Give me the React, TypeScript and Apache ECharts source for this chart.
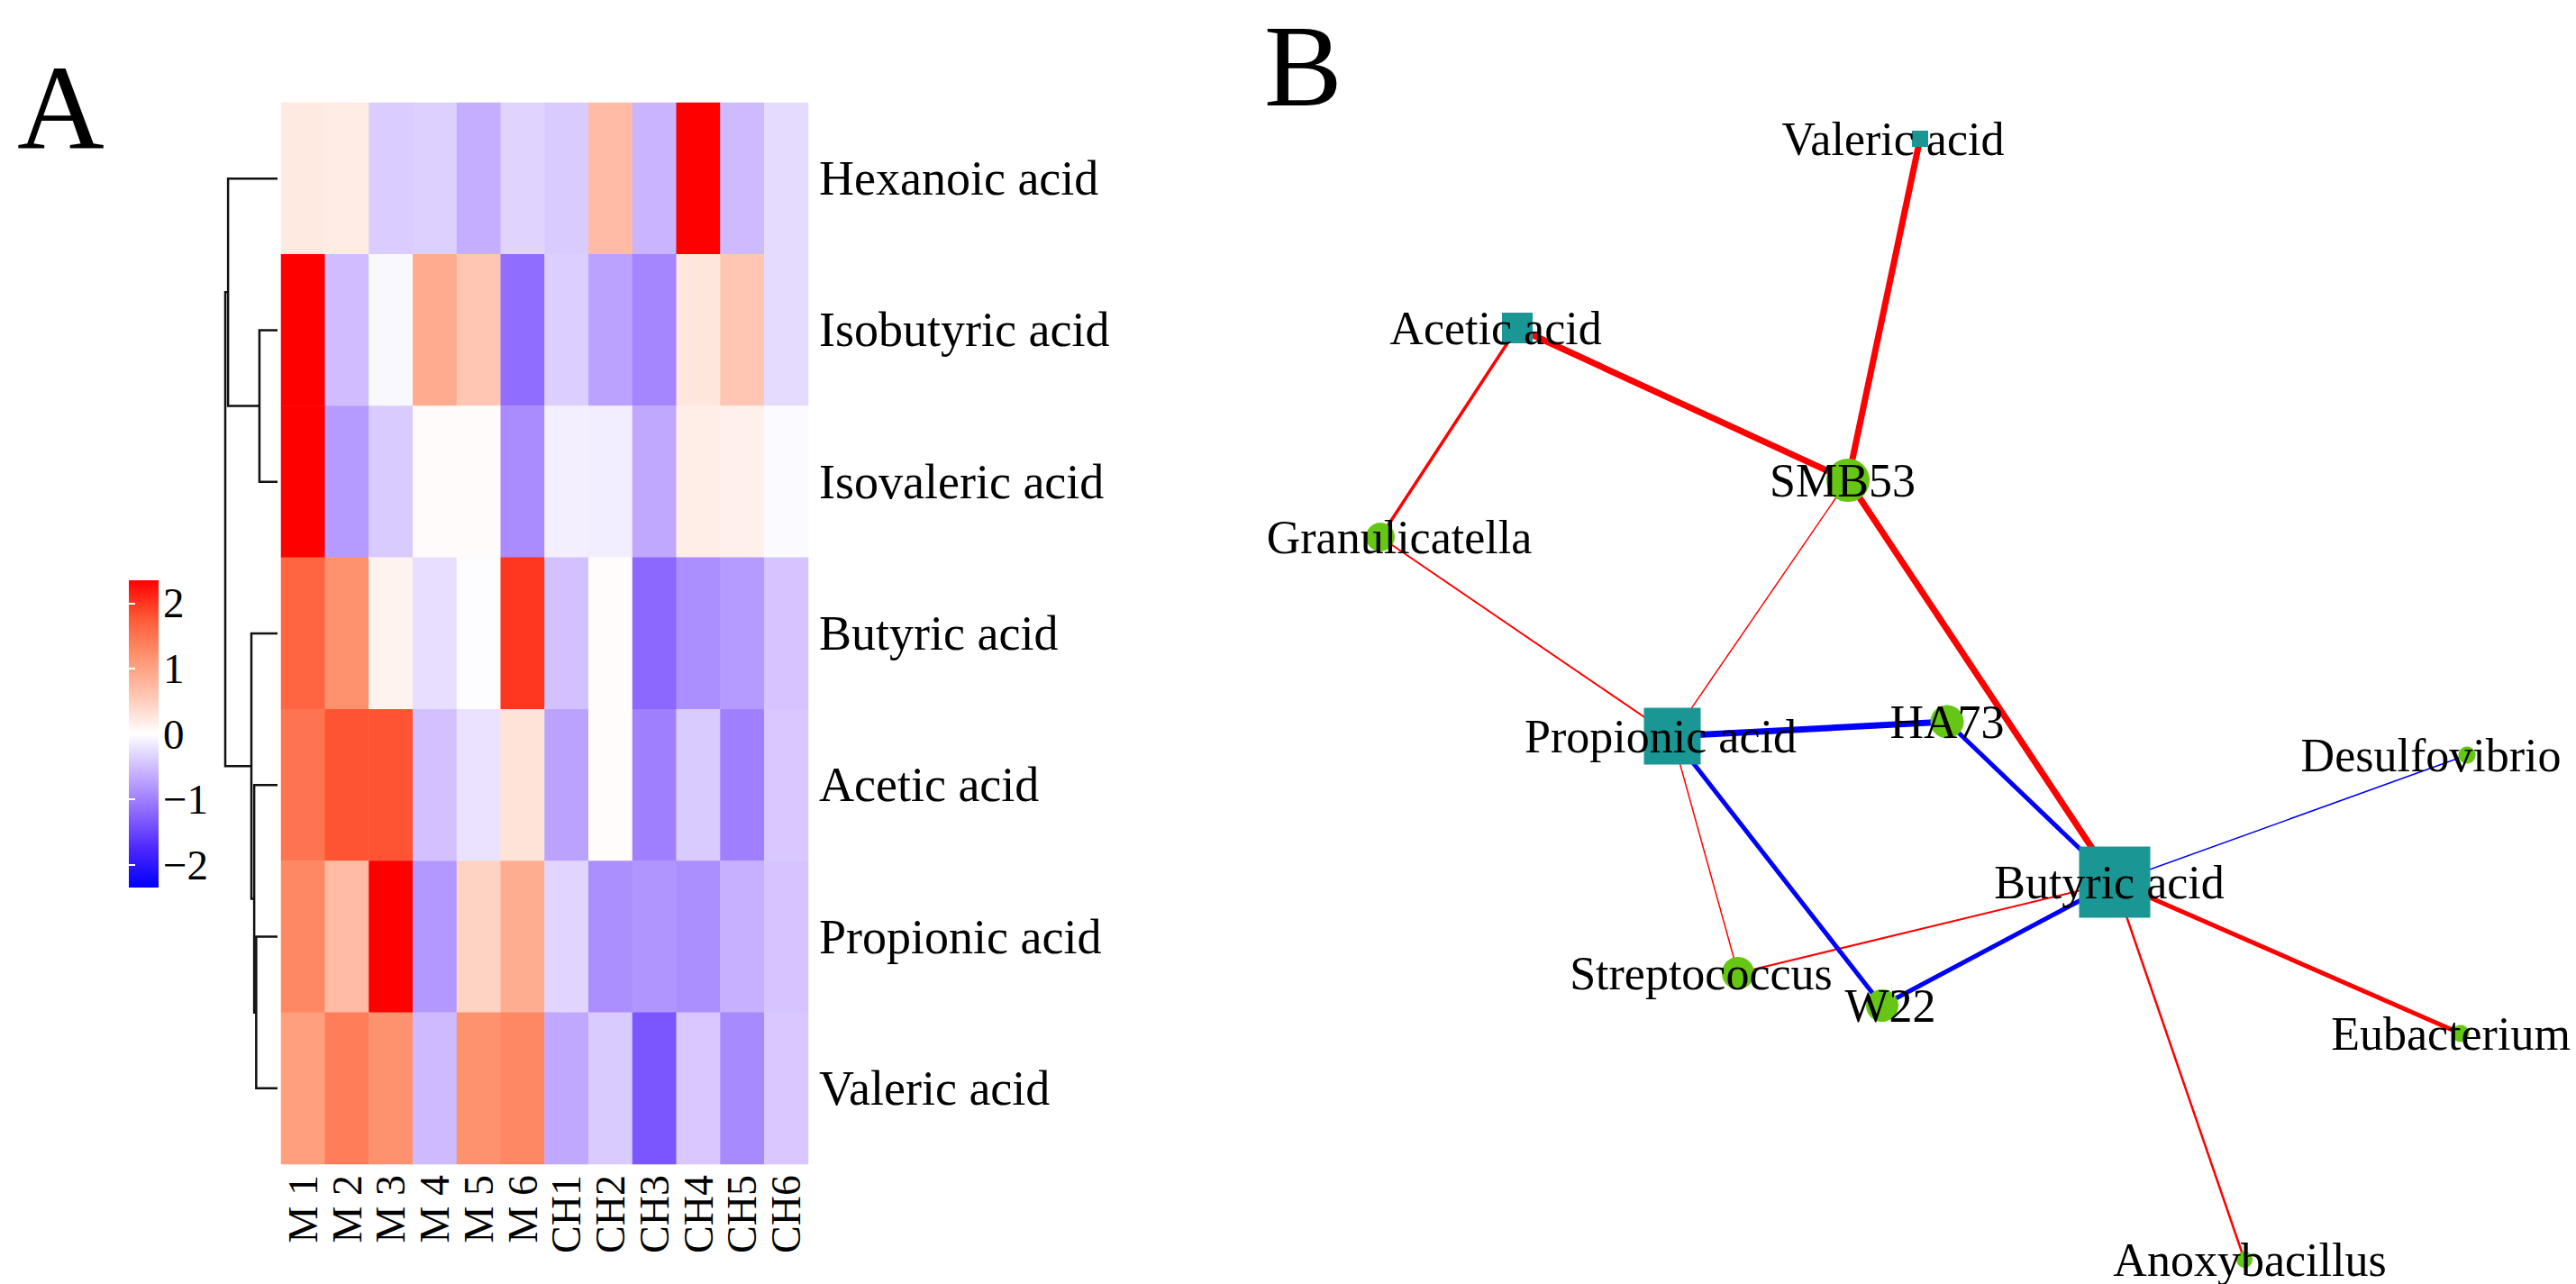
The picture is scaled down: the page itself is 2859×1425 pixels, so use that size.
import React, { useEffect, useRef } from 'react';
import * as echarts from 'echarts';

// ---------- Panel A data ----------
const colLabels = ['M 1', 'M 2', 'M 3', 'M 4', 'M 5', 'M 6', 'CH1', 'CH2', 'CH3', 'CH4', 'CH5', 'CH6'];
const rowLabels = ['Hexanoic acid', 'Isobutyric acid', 'Isovaleric acid', 'Butyric acid', 'Acetic acid', 'Propionic acid', 'Valeric acid'];

const hexanoic = [0.22, 0.2, -0.39, -0.36, -0.62, -0.33, -0.4, 0.72, -0.57, 2.4, -0.52, -0.28];
const isobutyric = [2.4, -0.5, -0.05, 0.9, 0.58, -1.15, -0.37, -0.72, -0.95, 0.25, 0.58, -0.28];
const isovaleric = [2.4, -0.78, -0.4, 0.04, 0.04, -0.9, -0.12, -0.13, -0.67, 0.18, 0.15, -0.04];
const butyric = [1.65, 1.2, 0.12, -0.25, -0.02, 2.0, -0.47, 0.03, -1.2, -0.88, -0.78, -0.45];
const acetic = [1.5, 1.8, 1.8, -0.47, -0.22, 0.3, -0.72, 0.03, -1.0, -0.4, -1.0, -0.42];
const propionic = [1.3, 0.72, 2.4, -0.8, 0.45, 0.88, -0.32, -0.88, -0.83, -0.88, -0.6, -0.45];
const valeric = [1.05, 1.4, 1.2, -0.52, 1.2, 1.3, -0.67, -0.4, -1.35, -0.42, -0.92, -0.42];
const rowValues = [hexanoic, isobutyric, isovaleric, butyric, acetic, propionic, valeric];

const scaleMin = -2.35;
const scaleMax = 2.35;
const scaleColors = ['#0000FF', '#4D26FF', '#8F6BFF', '#C8B2FF', '#FFFFFF', '#FFC6B2', '#FF9470', '#FF5A36', '#FF0000'];
const legendTicks = [-2, -1, 0, 1, 2];

// dendrogram merges: [left child, right child, height]; leaves are 0..6, merges numbered from 7
const merges = [
  [1, 2, 4.5],
  [0, 7, 12.3],
  [5, 6, 5.3],
  [4, 9, 5.8],
  [3, 10, 6.5],
  [8, 11, 13],
];
const dendroMaxHeight = 13;

// ---------- Panel B data ----------
const nodeNames = ['Valeric acid', 'Acetic acid', 'SMB53', 'Granulicatella', 'Propionic acid', 'HA73', 'Streptococcus', 'W22', 'Butyric acid', 'Desulfovibrio', 'Eubacterium', 'Anoxybacillus'];
const nodeIsAcid = [true, true, false, false, true, false, false, false, true, false, false, false];
const nodeX = [2131, 1684, 2051, 1532, 1856, 2161, 1929, 2089, 2347, 2738, 2731, 2491];
const nodeY = [154, 364, 533, 596, 817, 801, 1080, 1116, 979, 838, 1147, 1398];
const nodeSize = [18, 34, 48, 32, 63, 37, 36, 36, 79, 19, 19, 18];
const labelDx = [-30, -24, -6, 21, -13, 0, -41, 9, -6, -40, -11, 6];

const edgeSource = ['Valeric acid', 'Acetic acid', 'SMB53', 'Acetic acid', 'Granulicatella', 'SMB53', 'Propionic acid', 'Streptococcus', 'Butyric acid', 'Butyric acid', 'Propionic acid', 'Propionic acid', 'HA73', 'W22', 'Butyric acid'];
const edgeTarget = ['SMB53', 'SMB53', 'Butyric acid', 'Granulicatella', 'Propionic acid', 'Propionic acid', 'Streptococcus', 'Butyric acid', 'Eubacterium', 'Anoxybacillus', 'HA73', 'W22', 'Butyric acid', 'Butyric acid', 'Desulfovibrio'];
const edgePositive = [true, true, true, true, true, true, true, true, true, true, false, false, false, false, false];
const edgeWeight = [7, 7, 7, 3.5, 2, 1.5, 1.5, 2, 5, 2.5, 7, 5, 5, 5, 1.5];

const FONT = '"Liberation Serif", "Times New Roman", serif';

function buildOption() {
  const heatData: any[] = [];
  rowValues.forEach((row, r) => row.forEach((v, c) => heatData.push([c, r, v])));

  // dendrogram geometry
  const nodeYPos: number[] = rowLabels.map((_, i) => i);
  const nodeH: number[] = rowLabels.map(() => 0);
  const dendroLines: any[] = [];
  merges.forEach(([a, b, h]) => {
    const ya = nodeYPos[a];
    const yb = nodeYPos[b];
    dendroLines.push({ coords: [[nodeH[a], ya], [h, ya], [h, yb], [nodeH[b], yb]] });
    nodeYPos.push((ya + yb) / 2);
    nodeH.push(h);
  });

  const gradStops = scaleColors
    .slice()
    .reverse()
    .map((c, i, a) => ({ offset: i / (a.length - 1), color: c }));

  const graphNodes = nodeNames.map((n, i) => ({
    name: n,
    value: [nodeX[i], nodeY[i]],
    symbol: nodeIsAcid[i] ? 'rect' : 'circle',
    symbolSize: nodeSize[i],
    itemStyle: { color: nodeIsAcid[i] ? '#1a9794' : '#66c614' },
    label: { offset: [labelDx[i], 0] },
  }));
  const graphLinks = edgeSource.map((s, i) => ({
    source: s,
    target: edgeTarget[i],
    lineStyle: { color: edgePositive[i] ? '#ff0000' : '#0000ff', width: edgeWeight[i], opacity: 1, curveness: 0 },
  }));

  const hiddenAxis = { show: false };

  return {
    animation: false,
    backgroundColor: '#ffffff',
    textStyle: { fontFamily: FONT },
    graphic: [
      { type: 'text', left: 19, top: 52, style: { text: 'A', fontSize: 134, fontFamily: FONT, fill: '#000' } },
      { type: 'text', left: 1403, top: 8, style: { text: 'B', fontSize: 130, fontFamily: FONT, fill: '#000' } },
    ],
    visualMap: {
      type: 'continuous',
      show: false,
      min: scaleMin,
      max: scaleMax,
      dimension: 2,
      seriesIndex: 0,
      inRange: { color: scaleColors },
    },
    grid: [
      { left: 312, top: 114, width: 585, height: 1178 },
      { left: 250, top: 114, width: 58, height: 1178 },
      { left: 143, top: 644, width: 33, height: 341 },
      { left: 0, top: 0, width: 2859, height: 1425 },
    ],
    xAxis: [
      {
        type: 'category',
        gridIndex: 0,
        data: colLabels,
        position: 'bottom',
        axisLine: { show: false },
        axisTick: { show: false },
        splitLine: { show: false },
        axisLabel: { rotate: 90, interval: 0, fontSize: 46, fontFamily: FONT, color: '#000', margin: 12 },
      },
      { type: 'value', gridIndex: 1, min: 0, max: dendroMaxHeight, inverse: true, ...hiddenAxis },
      { type: 'value', gridIndex: 2, min: 0, max: 1, ...hiddenAxis },
      { type: 'value', gridIndex: 3, min: 0, max: 2859, ...hiddenAxis },
    ],
    yAxis: [
      {
        type: 'category',
        gridIndex: 0,
        data: rowLabels,
        inverse: true,
        position: 'right',
        axisLine: { show: false },
        axisTick: { show: false },
        splitLine: { show: false },
        axisLabel: { fontSize: 54, fontFamily: FONT, color: '#000', margin: 12 },
      },
      { type: 'value', gridIndex: 1, min: -0.5, max: 6.5, inverse: true, ...hiddenAxis },
      {
        type: 'value',
        gridIndex: 2,
        min: scaleMin,
        max: scaleMax,
        position: 'right',
        z: 10,
        axisLine: { show: false },
        splitLine: { show: false },
        axisTick: { show: true, inside: true, length: 7, customValues: legendTicks, lineStyle: { color: '#ffffff', width: 2 } },
        axisLabel: {
          customValues: legendTicks,
          fontSize: 47,
          fontFamily: FONT,
          color: '#000',
          margin: 5,
          formatter: (v: number) => (v < 0 ? '\u2212' + Math.abs(v) : String(v)),
        },
      },
      { type: 'value', gridIndex: 3, min: 0, max: 1425, inverse: true, ...hiddenAxis },
      {
        type: 'value',
        gridIndex: 2,
        min: scaleMin,
        max: scaleMax,
        position: 'left',
        z: 10,
        axisLine: { show: false },
        splitLine: { show: false },
        axisLabel: { show: false },
        axisTick: { show: true, inside: true, length: 7, customValues: legendTicks, lineStyle: { color: '#ffffff', width: 2 } },
      },
    ],
    series: [
      {
        type: 'heatmap',
        xAxisIndex: 0,
        yAxisIndex: 0,
        data: heatData,
        itemStyle: { borderWidth: 0 },
        emphasis: { disabled: true },
        progressive: 0,
      },
      {
        type: 'lines',
        coordinateSystem: 'cartesian2d',
        xAxisIndex: 1,
        yAxisIndex: 1,
        polyline: true,
        silent: true,
        data: dendroLines,
        lineStyle: { color: '#111', width: 2.5, opacity: 1 },
      },
      {
        type: 'custom',
        xAxisIndex: 2,
        yAxisIndex: 2,
        silent: true,
        data: [[0, 0]],
        renderItem: (_params: any, api: any) => {
          const p0 = api.coord([0, scaleMax]);
          const p1 = api.coord([1, scaleMin]);
          return {
            type: 'rect',
            shape: { x: p0[0], y: p0[1], width: p1[0] - p0[0], height: p1[1] - p0[1] },
            style: { fill: new echarts.graphic.LinearGradient(0, 0, 0, 1, gradStops) },
          };
        },
      },
      {
        type: 'graph',
        coordinateSystem: 'cartesian2d',
        xAxisIndex: 3,
        yAxisIndex: 3,
        layout: 'none',
        silent: true,
        emphasis: { disabled: true },
        data: graphNodes,
        links: graphLinks,
        edgeSymbol: ['none', 'none'],
        label: { show: true, position: 'inside', color: '#000', fontSize: 52, fontFamily: FONT },
        lineStyle: { opacity: 1 },
      },
    ],
  };
}

export default function App() {
  const ref = useRef<HTMLDivElement>(null);
  useEffect(() => {
    document.body.style.margin = '0';
    document.body.style.overflow = 'hidden';
    if (!ref.current) return;
    const chart = echarts.init(ref.current, null, { renderer: 'svg' });
    chart.setOption(buildOption() as any);
    return () => chart.dispose();
  }, []);
  return <div ref={ref} style={{ width: 2859, height: 1425, background: '#fff' }} />;
}
